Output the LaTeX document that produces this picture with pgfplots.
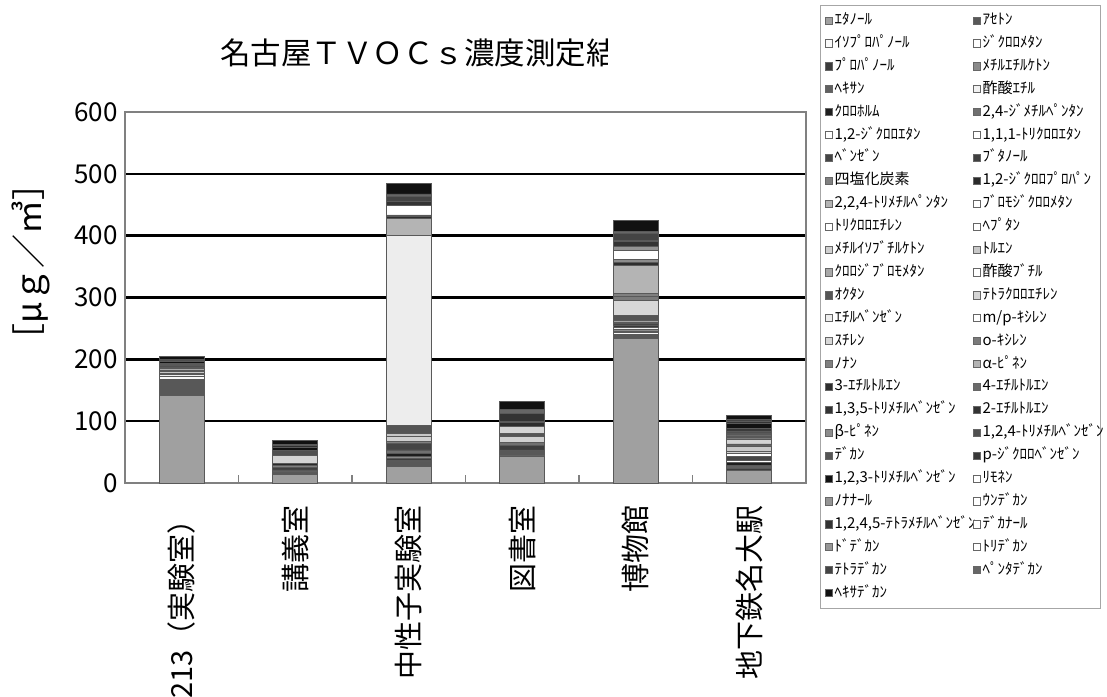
\documentclass[border=0pt]{standalone}
\usepackage{fontspec}
\setmainfont{Noto Sans CJK JP}
\usepackage{pgfplots}
\pgfplotsset{compat=1.18}

% grey shades of the 51 compounds (elution order)
\definecolor{c1}{HTML}{A0A0A0}\definecolor{c2}{HTML}{585858}\definecolor{c3}{HTML}{FAFAFA}
\definecolor{c4}{HTML}{FFFFFF}\definecolor{c5}{HTML}{3C3C3C}\definecolor{c6}{HTML}{8A8A8A}
\definecolor{c7}{HTML}{606060}\definecolor{c8}{HTML}{F2F2F2}\definecolor{c9}{HTML}{1E1E1E}
\definecolor{c10}{HTML}{707070}\definecolor{c11}{HTML}{FFFFFF}\definecolor{c12}{HTML}{FFFFFF}
\definecolor{c13}{HTML}{454545}\definecolor{c14}{HTML}{404040}\definecolor{c15}{HTML}{808080}
\definecolor{c16}{HTML}{2A2A2A}\definecolor{c17}{HTML}{B4B4B4}\definecolor{c18}{HTML}{FFFFFF}
\definecolor{c19}{HTML}{FFFFFF}\definecolor{c20}{HTML}{FFFFFF}\definecolor{c21}{HTML}{D0D0D0}
\definecolor{c22}{HTML}{C8C8C8}\definecolor{c23}{HTML}{A8A8A8}\definecolor{c24}{HTML}{FFFFFF}
\definecolor{c25}{HTML}{555555}\definecolor{c26}{HTML}{D4D4D4}\definecolor{c27}{HTML}{EDEDED}
\definecolor{c28}{HTML}{FFFFFF}\definecolor{c29}{HTML}{D8D8D8}\definecolor{c30}{HTML}{7A7A7A}
\definecolor{c31}{HTML}{808080}\definecolor{c32}{HTML}{B4B4B4}\definecolor{c33}{HTML}{2E2E2E}
\definecolor{c34}{HTML}{6A6A6A}\definecolor{c35}{HTML}{333333}\definecolor{c36}{HTML}{333333}
\definecolor{c37}{HTML}{8C8C8C}\definecolor{c38}{HTML}{505050}\definecolor{c39}{HTML}{555555}
\definecolor{c40}{HTML}{383838}\definecolor{c41}{HTML}{111111}\definecolor{c42}{HTML}{FFFFFF}
\definecolor{c43}{HTML}{949494}\definecolor{c44}{HTML}{FFFFFF}\definecolor{c45}{HTML}{333333}
\definecolor{c46}{HTML}{FFFFFF}\definecolor{c47}{HTML}{969696}\definecolor{c48}{HTML}{FFFFFF}
\definecolor{c49}{HTML}{444444}\definecolor{c50}{HTML}{666666}\definecolor{c51}{HTML}{111111}

% fixed-width legend cells for the two legend columns
\newcommand\La[1]{\makebox[68pt][l]{#1}}
\newcommand\Lb[1]{\makebox[56pt][l]{#1}}

\begin{document}
\begin{tikzpicture}
\useasboundingbox (-62.5pt,-106.5pt) rectangle (491pt,241.5pt);
\begin{axis}[
  scale only axis, width=340.5pt, height=185.5pt,
  xmin=-0.5, xmax=5.5, ymin=0, ymax=600,
  ybar stacked, bar width=22.5pt,
  ytick={0,100,...,600},
  xtick={0,...,5},
  xticklabels={213（実験室）,講義室,中性子実験室,図書室,博物館,地下鉄名大駅},
  major tick length=0pt, tick pos=left,
  ymajorgrids, major grid style={black, line width=1.3pt},
  axis line style={draw=gray, line width=0.6pt},
  /pgf/number format/assume math mode=true,
  y tick label style={font=\fontsize{13}{13}\selectfont, inner sep=0pt},
  yticklabel shift=3.5pt,
  x tick label style={rotate=90, anchor=east, inner sep=0pt, font=\fontsize{14.5}{14.5}\selectfont},
  xticklabel shift=11pt,
  ylabel={［μｇ／㎥］},
  ylabel style={at={(axis description cs:-0.138,0.596)}, anchor=center, font=\fontsize{17}{17}\selectfont},
  every axis plot post/.append style={draw=black!65, line width=0.35pt,
    legend image code/.code={\draw[##1,draw=black!60,line width=0.4pt] (0pt,-1.8pt) rectangle (3.6pt,1.8pt);}},
  legend columns=2,
  legend cell align=left,
  legend style={at={(1.0206,1.2884)}, anchor=north west, draw=gray!70, line width=0.5pt,
    font=\fontsize{7.5}{7.5}\selectfont, inner xsep=2pt, inner ysep=3pt,
    nodes={inner sep=1pt, text height=5.5pt, text depth=1.5pt}, row sep=2.45pt},
]
\addplot[fill=c1] coordinates {(0,141) (1,13.5) (2,27.5) (3,43.7) (4,234.5) (5,21)};\addlegendentry{\La{ｴﾀﾉｰﾙ}}
\addplot[fill=c2] coordinates {(0,26.5) (1,3.8) (2,7) (3,9.7) (4,6) (5,0)};\addlegendentry{\Lb{ｱｾﾄﾝ}}
\addplot[fill=c3] coordinates {(0,4.4) (1,0) (2,2) (3,0) (4,3) (5,0)};\addlegendentry{\La{ｲｿﾌﾟﾛﾊﾟﾉｰﾙ}}
\addplot[fill=c4] coordinates {(0,0) (1,0) (2,0) (3,0) (4,0) (5,0)};\addlegendentry{\Lb{ｼﾞｸﾛﾛﾒﾀﾝ}}
\addplot[fill=c5] coordinates {(0,0) (1,0) (2,3) (3,8) (4,2) (5,2.7)};\addlegendentry{\La{ﾌﾟﾛﾊﾟﾉｰﾙ}}
\addplot[fill=c6] coordinates {(0,0) (1,0) (2,3) (3,0) (4,3) (5,0)};\addlegendentry{\Lb{ﾒﾁﾙｴﾁﾙｹﾄﾝ}}
\addplot[fill=c7] coordinates {(0,0) (1,3.8) (2,0) (3,0) (4,0) (5,5.4)};\addlegendentry{\La{ﾍｷｻﾝ}}
\addplot[fill=c8] coordinates {(0,4.3) (1,0) (2,0) (3,0) (4,4) (5,0)};\addlegendentry{\Lb{酢酸ｴﾁﾙ}}
\addplot[fill=c9] coordinates {(0,0.8) (1,0) (2,5.5) (3,0) (4,2) (5,3.8)};\addlegendentry{\La{ｸﾛﾛﾎﾙﾑ}}
\addplot[fill=c10] coordinates {(0,0) (1,0) (2,5.4) (3,3.8) (4,0) (5,0)};\addlegendentry{\Lb{2,4-ｼﾞﾒﾁﾙﾍﾟﾝﾀﾝ}}
\addplot[fill=c11] coordinates {(0,0) (1,0) (2,0) (3,0) (4,0) (5,4.3)};\addlegendentry{\La{1,2-ｼﾞｸﾛﾛｴﾀﾝ}}
\addplot[fill=c12] coordinates {(0,0) (1,0) (2,0) (3,0) (4,0) (5,0)};\addlegendentry{\Lb{1,1,1-ﾄﾘｸﾛﾛｴﾀﾝ}}
\addplot[fill=c13] coordinates {(0,0) (1,0) (2,10.7) (3,0) (4,3) (5,5.4)};\addlegendentry{\La{ﾍﾞﾝｾﾞﾝ}}
\addplot[fill=c14] coordinates {(0,0) (1,3.8) (2,0) (3,0) (4,0) (5,0)};\addlegendentry{\Lb{ﾌﾞﾀﾉｰﾙ}}
\addplot[fill=c15] coordinates {(0,0) (1,3.2) (2,2.7) (3,0) (4,0) (5,0)};\addlegendentry{\La{四塩化炭素}}
\addplot[fill=c16] coordinates {(0,0) (1,3.8) (2,0) (3,0) (4,3) (5,0)};\addlegendentry{\Lb{1,2-ｼﾞｸﾛﾛﾌﾟﾛﾊﾟﾝ}}
\addplot[fill=c17] coordinates {(0,0) (1,0) (2,0) (3,0) (4,3.1) (5,0)};\addlegendentry{\La{2,2,4-ﾄﾘﾒﾁﾙﾍﾟﾝﾀﾝ}}
\addplot[fill=c18] coordinates {(0,0) (1,0) (2,0) (3,0) (4,0) (5,5.4)};\addlegendentry{\Lb{ﾌﾞﾛﾓｼﾞｸﾛﾛﾒﾀﾝ}}
\addplot[fill=c19] coordinates {(0,0) (1,0) (2,0) (3,0) (4,0) (5,0)};\addlegendentry{\La{ﾄﾘｸﾛﾛｴﾁﾚﾝ}}
\addplot[fill=c20] coordinates {(0,0) (1,0) (2,0) (3,0) (4,0) (5,0)};\addlegendentry{\Lb{ﾍﾌﾟﾀﾝ}}
\addplot[fill=c21] coordinates {(0,0) (1,0) (2,9.2) (3,10.8) (4,0) (5,2.7)};\addlegendentry{\La{ﾒﾁﾙｲｿﾌﾞﾁﾙｹﾄﾝ}}
\addplot[fill=c22] coordinates {(0,3) (1,0) (2,4.3) (3,0) (4,0) (5,9.2)};\addlegendentry{\Lb{ﾄﾙｴﾝ}}
\addplot[fill=c23] coordinates {(0,0) (1,0) (2,0) (3,0) (4,0) (5,0)};\addlegendentry{\La{ｸﾛﾛｼﾞﾌﾞﾛﾓﾒﾀﾝ}}
\addplot[fill=c24] coordinates {(0,0) (1,0) (2,0) (3,0) (4,0) (5,0)};\addlegendentry{\Lb{酢酸ﾌﾞﾁﾙ}}
\addplot[fill=c25] coordinates {(0,3) (1,0) (2,13.5) (3,4.3) (4,8.1) (5,3.2)};\addlegendentry{\La{ｵｸﾀﾝ}}
\addplot[fill=c26] coordinates {(0,0) (1,12.4) (2,0) (3,10.8) (4,0) (5,7.5)};\addlegendentry{\Lb{ﾃﾄﾗｸﾛﾛｴﾁﾚﾝ}}
\addplot[fill=c27] coordinates {(0,0) (1,0) (2,307) (3,0) (4,0) (5,0)};\addlegendentry{\La{ｴﾁﾙﾍﾞﾝｾﾞﾝ}}
\addplot[fill=c28] coordinates {(0,0) (1,0) (2,0) (3,0) (4,0) (5,0)};\addlegendentry{\Lb{m/p-ｷｼﾚﾝ}}
\addplot[fill=c29] coordinates {(0,0) (1,0) (2,0) (3,0) (4,24.2) (5,0)};\addlegendentry{\La{ｽﾁﾚﾝ}}
\addplot[fill=c30] coordinates {(0,0) (1,0) (2,0) (3,0) (4,5.4) (5,3)};\addlegendentry{\Lb{o-ｷｼﾚﾝ}}
\addplot[fill=c31] coordinates {(0,0) (1,0) (2,0) (3,0) (4,5.4) (5,0)};\addlegendentry{\La{ﾉﾅﾝ}}
\addplot[fill=c32] coordinates {(0,2.7) (1,0) (2,27.2) (3,0) (4,45.8) (5,0)};\addlegendentry{\Lb{α-ﾋﾟﾈﾝ}}
\addplot[fill=c33] coordinates {(0,1.8) (1,0) (2,2.6) (3,6.5) (4,3.8) (5,1.5)};\addlegendentry{\La{3-ｴﾁﾙﾄﾙｴﾝ}}
\addplot[fill=c34] coordinates {(0,0) (1,0) (2,0) (3,0) (4,0) (5,3)};\addlegendentry{\Lb{4-ｴﾁﾙﾄﾙｴﾝ}}
\addplot[fill=c35] coordinates {(0,0) (1,0) (2,0) (3,0) (4,0) (5,2.2)};\addlegendentry{\La{1,3,5-ﾄﾘﾒﾁﾙﾍﾞﾝｾﾞﾝ}}
\addplot[fill=c36] coordinates {(0,0) (1,0) (2,0) (3,0) (4,0) (5,0)};\addlegendentry{\Lb{2-ｴﾁﾙﾄﾙｴﾝ}}
\addplot[fill=c37] coordinates {(0,0) (1,0) (2,3) (3,0) (4,5.4) (5,0)};\addlegendentry{\La{β-ﾋﾟﾈﾝ}}
\addplot[fill=c38] coordinates {(0,3) (1,8) (2,0) (3,0) (4,0) (5,4)};\addlegendentry{\Lb{1,2,4-ﾄﾘﾒﾁﾙﾍﾞﾝｾﾞﾝ}}
\addplot[fill=c39] coordinates {(0,2) (1,0) (2,0) (3,0) (4,0) (5,0)};\addlegendentry{\La{ﾃﾞｶﾝ}}
\addplot[fill=c40] coordinates {(0,1.5) (1,0) (2,0) (3,0) (4,0) (5,4)};\addlegendentry{\Lb{p-ｼﾞｸﾛﾛﾍﾞﾝｾﾞﾝ}}
\addplot[fill=c41] coordinates {(0,3.5) (1,6) (2,0) (3,0) (4,0) (5,8)};\addlegendentry{\La{1,2,3-ﾄﾘﾒﾁﾙﾍﾞﾝｾﾞﾝ}}
\addplot[fill=c42] coordinates {(0,0) (1,0) (2,15.9) (3,1.6) (4,15.1) (5,0)};\addlegendentry{\Lb{ﾘﾓﾈﾝ}}
\addplot[fill=c43] coordinates {(0,0) (1,0) (2,0) (3,0) (4,5.4) (5,0)};\addlegendentry{\La{ﾉﾅﾅｰﾙ}}
\addplot[fill=c44] coordinates {(0,0) (1,0) (2,0) (3,0) (4,0) (5,0)};\addlegendentry{\Lb{ｳﾝﾃﾞｶﾝ}}
\addplot[fill=c45] coordinates {(0,1.5) (1,2) (2,6) (3,13.4) (4,8) (5,3)};\addlegendentry{\La{1,2,4,5-ﾃﾄﾗﾒﾁﾙﾍﾞﾝｾﾞﾝ}}
\addplot[fill=c46] coordinates {(0,0) (1,0) (2,0) (3,0) (4,0.8) (5,0)};\addlegendentry{\Lb{ﾃﾞｶﾅｰﾙ}}
\addplot[fill=c47] coordinates {(0,0) (1,0) (2,0) (3,0) (4,2) (5,0)};\addlegendentry{\La{ﾄﾞﾃﾞｶﾝ}}
\addplot[fill=c48] coordinates {(0,0) (1,0) (2,0) (3,0) (4,0) (5,0)};\addlegendentry{\Lb{ﾄﾘﾃﾞｶﾝ}}
\addplot[fill=c49] coordinates {(0,1.5) (1,2) (2,8) (3,0) (4,10) (5,3)};\addlegendentry{\La{ﾃﾄﾗﾃﾞｶﾝ}}
\addplot[fill=c50] coordinates {(0,0) (1,0) (2,4) (3,6.5) (4,4) (5,0)};\addlegendentry{\Lb{ﾍﾟﾝﾀﾃﾞｶﾝ}}
\addplot[fill=c51] coordinates {(0,4.9) (1,7.2) (2,17.1) (3,12.4) (4,17.2) (5,6.6)};\addlegendentry{\La{ﾍｷｻﾃﾞｶﾝ}}
\end{axis}
% short separators between the categories, drawn on an overlaid plain axis
\begin{axis}[
  scale only axis, width=340.5pt, height=185.5pt,
  xmin=-0.5, xmax=5.5, ymin=0, ymax=600,
  hide axis, clip=false,
]
\addplot[draw=gray, line width=0.6pt, unbounded coords=jump, mark=none, forget plot]
  coordinates {(0.5,0) (0.5,13) (0.5,nan) (1.5,0) (1.5,13) (1.5,nan) (2.5,0) (2.5,13) (2.5,nan)
               (3.5,0) (3.5,13) (3.5,nan) (4.5,0) (4.5,13)};
\end{axis}
% title, cut off at the edge of its text box
\begin{scope}
\clip (0pt,190pt) rectangle (241pt,240pt);
\node[anchor=west, inner sep=0pt, font=\fontsize{15.25}{15.25}\selectfont] at (47.5pt,215pt) {名古屋ＴＶＯＣｓ濃度測定結};
\end{scope}
\end{tikzpicture}
\end{document}
